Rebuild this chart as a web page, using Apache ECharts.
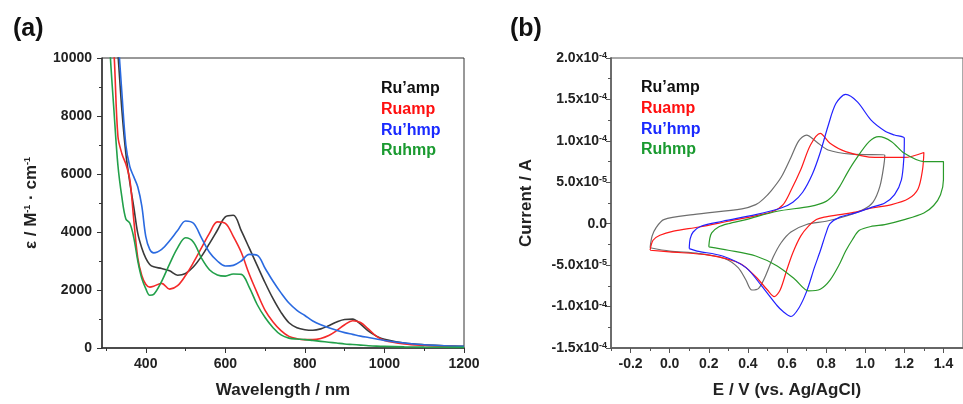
<!DOCTYPE html>
<html>
<head>
<meta charset="utf-8">
<script src="https://cdn.jsdelivr.net/npm/echarts/dist/echarts.min.js"></script>
<style>
  html, body { margin: 0; padding: 0; background: #fff; }
  #chart { width: 963px; height: 404px; }
</style>
</head>
<body>
<div id="chart"></div>
<script>
// (a) absorption spectra, wavelength in nm, epsilon in M-1 cm-1
var wl = [300, 310, 320, 330, 340, 350, 360, 370, 380, 390, 400, 410, 420, 440, 460, 480, 500, 520, 540, 560,
          580, 600, 620, 640, 660, 680, 700, 720, 740, 760, 780, 800, 820, 840, 860, 880, 900, 920, 940, 960,
          980, 1000, 1050, 1100, 1150, 1200];
var epsRuAmpP = [14500, 13200, 11800, 10150, 8200, 6700, 5700, 4850, 3950, 3450, 3100, 2880, 2800, 2740, 2660, 2510, 2570, 2800, 3160, 3600,
                 4060, 4520, 4580, 4050, 3450, 2850, 2250, 1700, 1230, 870, 700, 630, 610, 660, 770, 900, 985, 995, 820, 580,
                 410, 300, 170, 110, 80, 60];
var epsRuAmp = [13500, 11800, 10200, 7300, 6700, 6340, 5800, 4400, 3100, 2500, 2200, 2100, 2130, 2230, 2030, 2150, 2500, 2950, 3450, 3950,
                4350, 4300, 3850, 3300, 2550, 1900, 1300, 900, 600, 400, 320, 290, 290, 330, 430, 600, 800, 940, 880, 650,
                400, 260, 140, 90, 60, 40];
var epsRuHmpP = [16000, 14500, 13000, 10800, 8800, 7000, 6250, 5900, 5550, 4900, 3850, 3400, 3280, 3400, 3700, 4050, 4380, 4300, 3800, 3300,
                 3000, 2830, 2850, 3000, 3230, 3200, 2750, 2300, 1900, 1550, 1300, 1120, 930, 800, 700, 610, 530, 470, 410, 360,
                 310, 260, 170, 110, 75, 55];
var epsRuHmp = [13500, 10300, 8200, 6300, 5200, 4450, 4300, 3800, 3000, 2400, 2050, 1820, 1850, 2300, 2900, 3450, 3800, 3650, 3100, 2700,
                2520, 2480, 2550, 2540, 2100, 1500, 1050, 700, 450, 340, 310, 290, 260, 230, 200, 170, 140, 120, 100, 80,
                65, 55, 40, 30, 25, 20];
var wlMajorTicks = [400, 600, 800, 1000, 1200];
var wlMinorTicks = [300, 500, 700, 900, 1100];

// (b) cyclic voltammograms [E / V, current / A]
var cvRuAmpP = [[-0.1, -2.9e-5], [-0.09, -1.5e-5], [-0.07, -0.5e-5], [-0.03, 0.5e-5], [0.12, 1.1e-5], [0.37, 1.8e-5], [0.44, 2.3e-5],
                [0.48, 3.0e-5], [0.52, 4.0e-5], [0.57, 5.6e-5], [0.62, 8.0e-5], [0.66, 1.0e-4], [0.7, 1.07e-4], [0.75, 9.9e-5],
                [0.81, 8.9e-5], [0.93, 8.4e-5], [1.1, 8.3e-5],
                [1.095, 7.0e-5], [1.075, 4.5e-5], [1.04, 2.6e-5], [0.99, 1.7e-5], [0.9, 0.9e-5], [0.8, 0.3e-5], [0.7, -0.1e-5],
                [0.62, -1.0e-5], [0.57, -2.3e-5], [0.53, -4.0e-5], [0.49, -6.3e-5], [0.455, -7.8e-5], [0.42, -8.0e-5],
                [0.39, -6.8e-5], [0.35, -5.3e-5], [0.28, -4.2e-5], [0.15, -3.6e-5], [0.0, -3.3e-5], [-0.1, -2.9e-5]];
var cvRuAmp = [[-0.1, -3.2e-5], [-0.085, -2.0e-5], [-0.05, -1.4e-5], [0.02, -0.9e-5], [0.15, -0.4e-5], [0.3, 0.3e-5], [0.45, 1.0e-5],
               [0.53, 1.5e-5], [0.58, 2.3e-5], [0.62, 4.0e-5], [0.67, 6.5e-5], [0.72, 9.5e-5], [0.77, 1.09e-4], [0.82, 9.7e-5],
               [0.9, 8.7e-5], [1.05, 8.0e-5], [1.2, 8.0e-5], [1.3, 8.6e-5],
               [1.293, 6.5e-5], [1.27, 4.2e-5], [1.22, 3.0e-5], [1.135, 2.3e-5], [1.035, 1.9e-5], [0.95, 1.4e-5], [0.87, 1.1e-5],
               [0.79, 0.8e-5], [0.75, 0.5e-5], [0.71, -0.3e-5], [0.67, -1.5e-5], [0.63, -3.5e-5], [0.6, -5.5e-5], [0.565, -8.0e-5],
               [0.535, -8.8e-5], [0.5, -8.0e-5], [0.44, -6.4e-5], [0.36, -4.8e-5], [0.2, -3.8e-5], [0.0, -3.4e-5], [-0.1, -3.2e-5]];
var cvRuHmpP = [[0.1, -3.0e-5], [0.105, -1.8e-5], [0.12, -1.0e-5], [0.16, -0.3e-5], [0.27, 0.3e-5], [0.44, 1.1e-5], [0.57, 1.9e-5],
                [0.63, 2.6e-5], [0.68, 3.8e-5], [0.73, 6.0e-5], [0.77, 8.6e-5], [0.81, 1.18e-4], [0.85, 1.45e-4], [0.9, 1.56e-4],
                [0.96, 1.47e-4], [1.03, 1.25e-4], [1.1, 1.12e-4], [1.15, 1.07e-4], [1.2, 1.03e-4],
                [1.198, 8.1e-5], [1.185, 5.3e-5], [1.15, 3.5e-5], [1.1, 2.5e-5], [1.035, 2.0e-5], [0.95, 1.3e-5], [0.87, 0.8e-5],
                [0.82, 0.0], [0.8, -1.1e-5], [0.77, -3.3e-5], [0.74, -5.3e-5], [0.7, -8.2e-5], [0.66, -1.02e-4], [0.62, -1.12e-4],
                [0.58, -1.06e-4], [0.55, -9.9e-5], [0.47, -7.5e-5], [0.39, -5.3e-5], [0.27, -3.9e-5], [0.14, -3.3e-5], [0.1, -3.0e-5]];
var cvRuHmp = [[0.2, -2.8e-5], [0.205, -1.8e-5], [0.215, -1.1e-5], [0.25, -0.4e-5], [0.3, 0.0], [0.39, 0.5e-5], [0.55, 1.5e-5],
               [0.72, 2.1e-5], [0.8, 2.7e-5], [0.84, 3.5e-5], [0.87, 4.5e-5], [0.91, 6.2e-5], [0.95, 7.7e-5], [1.02, 9.9e-5],
               [1.07, 1.05e-4], [1.135, 9.9e-5], [1.2, 8.5e-5], [1.3, 7.5e-5], [1.4, 7.5e-5],
               [1.4, 5.3e-5], [1.385, 3.5e-5], [1.35, 2.2e-5], [1.3, 1.3e-5], [1.2, 0.5e-5], [1.1, -0.1e-5], [1.035, -0.3e-5],
               [0.97, -0.8e-5], [0.935, -1.9e-5], [0.9, -3.3e-5], [0.87, -4.8e-5], [0.82, -6.8e-5], [0.77, -7.9e-5], [0.71, -8.1e-5],
               [0.64, -6.7e-5], [0.55, -5.1e-5], [0.44, -3.9e-5], [0.3, -3.2e-5], [0.2, -2.8e-5]];
var eMajorTicks = [-0.2, 0.0, 0.2, 0.4, 0.6, 0.8, 1.0, 1.2, 1.4];
var eMinorTicks = [-0.3, -0.1, 0.1, 0.3, 0.5, 0.7, 0.9, 1.1, 1.3, 1.5];

var names = ['Ru\u2019amp', 'Ruamp', 'Ru\u2019hmp', 'Ruhmp'];
var uvColors = ['#3a3a3a', '#f42a2a', '#2a6ae0', '#22a04a'];
var cvColors = ['#6e6e6e', '#ff1a1a', '#2222ff', '#2a9a2a'];
var legendColors = ['#111111', '#ff1010', '#1a2aff', '#1a9a30'];

var font = 'Liberation Sans';
var spectra = [epsRuAmpP, epsRuAmp, epsRuHmpP, epsRuHmp];
var cvs = [cvRuAmpP, cvRuAmp, cvRuHmpP, cvRuHmp];

function pairs(xs, ys) {
    var out = [];
    for (var i = 0; i < xs.length; i++) {
        out.push([xs[i], ys[i]]);
    }
    return out;
}

// 2.0x10^-4 style labels
function sciLabel(v) {
    if (Math.abs(v) < 1e-12) return '0.0';
    var e = Math.floor(Math.log10(Math.abs(v)) + 1e-9);
    var m = v / Math.pow(10, e);
    return m.toFixed(1) + 'x10{sup|' + e + '}';
}

function plain(v) {
    return String(Math.round(v));
}

var labelStyle = { fontFamily: font, fontWeight: 'bold', fontSize: 14, color: '#222' };
var nameStyle = { fontFamily: font, fontWeight: 'bold', fontSize: 17, color: '#222' };
var supStyle = { fontFamily: font, fontWeight: 'bold', fontSize: 9, color: '#222', verticalAlign: 'top' };

var series = [];
for (var i = 0; i < 4; i++) {
    series.push({
        name: names[i], type: 'line', xAxisIndex: 0, yAxisIndex: 0,
        data: pairs(wl, spectra[i]), showSymbol: false, symbol: 'none', smooth: 0.35,
        lineStyle: { color: uvColors[i], width: 1.6 }, itemStyle: { color: uvColors[i] }
    });
}
for (var j = 0; j < 4; j++) {
    series.push({
        name: names[j], type: 'line', xAxisIndex: 2, yAxisIndex: 1,
        data: cvs[j], showSymbol: false, symbol: 'none', smooth: 0.3,
        lineStyle: { color: cvColors[j], width: 1.2 }, itemStyle: { color: cvColors[j] }
    });
}

function legendData() {
    return names.map(function (n, k) {
        return { name: n, textStyle: { color: legendColors[k] } };
    });
}

var myChart = echarts.init(document.getElementById('chart'));
var option = {
    animation: false,
    backgroundColor: '#fff',
    title: [
        { text: '(a)', left: 8, top: 12, textStyle: { fontFamily: font, fontWeight: 'bold', fontSize: 25, color: '#111' } },
        { text: '(b)', left: 505, top: 12, textStyle: { fontFamily: font, fontWeight: 'bold', fontSize: 25, color: '#111' } }
    ],
    legend: [
        { left: 371, top: 76, orient: 'vertical', selectedMode: false, itemWidth: 0, itemHeight: 14, itemGap: 4.6,
          itemStyle: { opacity: 0 }, lineStyle: { opacity: 0 }, icon: 'rect',
          textStyle: { fontFamily: font, fontWeight: 'bold', fontSize: 16 }, data: legendData() },
        { left: 631, top: 75, orient: 'vertical', selectedMode: false, itemWidth: 0, itemHeight: 14, itemGap: 4.6,
          itemStyle: { opacity: 0 }, lineStyle: { opacity: 0 }, icon: 'rect',
          textStyle: { fontFamily: font, fontWeight: 'bold', fontSize: 16 }, data: legendData() }
    ],
    grid: [
        { left: 102, top: 58, width: 362, height: 292, show: true, borderColor: '#333', borderWidth: 1 },
        { left: 611, top: 58, width: 362, height: 292, show: true, borderColor: '#555', borderWidth: 1 }
    ],
    xAxis: [
        { gridIndex: 0, type: 'value', position: 'bottom', min: 290, max: 1200,
          name: 'Wavelength / nm', nameLocation: 'middle', nameGap: 34, nameTextStyle: nameStyle,
          axisLine: { onZero: false, lineStyle: { color: '#333', width: 1.5 } },
          axisTick: { inside: false, length: 5, customValues: wlMajorTicks, lineStyle: { color: '#333' } },
          axisLabel: Object.assign({ margin: 9, customValues: wlMajorTicks, formatter: plain }, labelStyle),
          splitLine: { show: false } },
        { gridIndex: 0, type: 'value', position: 'bottom', min: 290, max: 1200,
          axisLine: { show: false, onZero: false }, axisLabel: { show: false }, splitLine: { show: false },
          axisTick: { length: 3, customValues: wlMinorTicks, lineStyle: { color: '#333' } } },
        { gridIndex: 1, type: 'value', position: 'bottom', min: -0.3, max: 1.5,
          name: 'E / V (vs. Ag/AgCl)', nameLocation: 'middle', nameGap: 34, nameTextStyle: nameStyle,
          axisLine: { onZero: false, lineStyle: { color: '#666', width: 1.8 } },
          axisTick: { length: 5, customValues: eMajorTicks, lineStyle: { color: '#555' } },
          axisLabel: Object.assign({ margin: 9, customValues: eMajorTicks,
              formatter: function (v) { return v.toFixed(1); } }, labelStyle),
          splitLine: { show: false } },
        { gridIndex: 1, type: 'value', position: 'bottom', min: -0.3, max: 1.5,
          axisLine: { show: false, onZero: false }, axisLabel: { show: false }, splitLine: { show: false },
          axisTick: { length: 3, customValues: eMinorTicks, lineStyle: { color: '#555' } } }
    ],
    yAxis: [
        { gridIndex: 0, type: 'value', min: 0, max: 10000, interval: 2000,
          name: '\u03b5 / M{sup|-1} \u00b7 cm{sup|-1}', nameLocation: 'middle', nameGap: 62,
          nameTextStyle: Object.assign({ rich: { sup: supStyle } }, nameStyle),
          axisLine: { onZero: false, lineStyle: { color: '#333', width: 1.5 } },
          axisTick: { length: 5, lineStyle: { color: '#333' } },
          minorTick: { show: true, splitNumber: 2, length: 3, lineStyle: { color: '#333' } },
          axisLabel: Object.assign({ margin: 10, formatter: plain }, labelStyle),
          splitLine: { show: false }, minorSplitLine: { show: false } },
        { gridIndex: 1, type: 'value', min: -1.5e-4, max: 2.0e-4, interval: 0.5e-4,
          name: 'Current / A', nameLocation: 'middle', nameGap: 76, nameTextStyle: nameStyle,
          axisLine: { onZero: false, lineStyle: { color: '#666', width: 1.8 } },
          axisTick: { length: 5, lineStyle: { color: '#555' } },
          minorTick: { show: true, splitNumber: 2, length: 3, lineStyle: { color: '#555' } },
          axisLabel: Object.assign({ margin: 4, formatter: sciLabel, rich: { sup: supStyle } }, labelStyle),
          splitLine: { show: false }, minorSplitLine: { show: false } }
    ],
    series: series
};
myChart.setOption(option);
</script>
</body>
</html>
